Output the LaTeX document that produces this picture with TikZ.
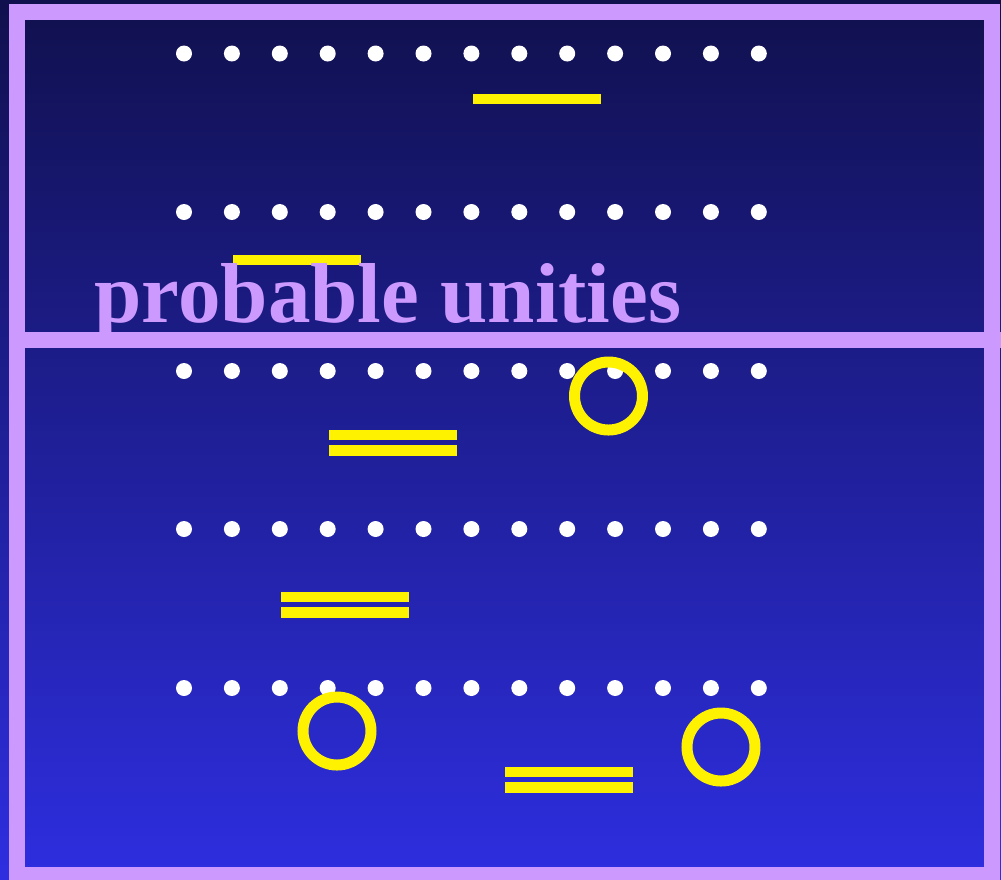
\documentclass[tikz,border=0pt]{standalone}
\usepackage{fontspec}
\setmainfont{Liberation Serif}
\definecolor{lilac}{HTML}{CC99FF}
\definecolor{navytop}{HTML}{10104E}
\definecolor{bluebot}{HTML}{2E2EE0}
\begin{document}
\begin{tikzpicture}
\tikzset{
  frameline/.style={draw=lilac, line width=0.16cm},
  dot/.style={circle, fill=white, inner sep=0pt, minimum size=0.16cm},
  bar/.style={draw=yellow, line width=0.105cm},
  ring/.style={draw=yellow, line width=0.11cm}
}
\useasboundingbox (0,0) rectangle (10.01,-8.79);
\shade[top color=navytop, bottom color=bluebot] (0,0) rectangle (10.01,-8.79);

% frame
\begin{scope}
\clip (0,0) rectangle (10.01,-8.79);
\draw[frameline] (0.17,-0.12) rectangle (9.92,-8.75);
\draw[frameline] (0.09,-3.40) -- (10.01,-3.40);
\end{scope}

% rows of dots
\foreach \r [count=\j] in {0.535,2.12,3.71,5.29,6.88}
  \foreach \c in {0,...,12}
    \node[dot] (d\j-\c) at ({1.84+0.479*\c},-\r) {};

% yellow marks
\draw[bar] (4.73,-0.99) -- (6.01,-0.99);
\draw[bar] (2.33,-2.60) -- (3.61,-2.60);
\draw[bar] (3.29,-4.35) -- (4.57,-4.35);
\draw[bar] (3.29,-4.505) -- (4.57,-4.505);
\draw[bar] (2.81,-5.97) -- (4.09,-5.97);
\draw[bar] (2.81,-6.125) -- (4.09,-6.125);
\draw[bar] (5.05,-7.72) -- (6.33,-7.72);
\draw[bar] (5.05,-7.875) -- (6.33,-7.875);

\draw[ring] (6.085,-3.96) circle (0.34);
\draw[ring] (3.37,-7.31) circle (0.34);
\draw[ring] (7.21,-7.47) circle (0.34);

\node[anchor=base west, inner sep=0pt, text=lilac, font=\fontsize{24.2}{24.2}\selectfont\bfseries] (title) at (0.94,-3.227) {probable unities};
\end{tikzpicture}
\end{document}
